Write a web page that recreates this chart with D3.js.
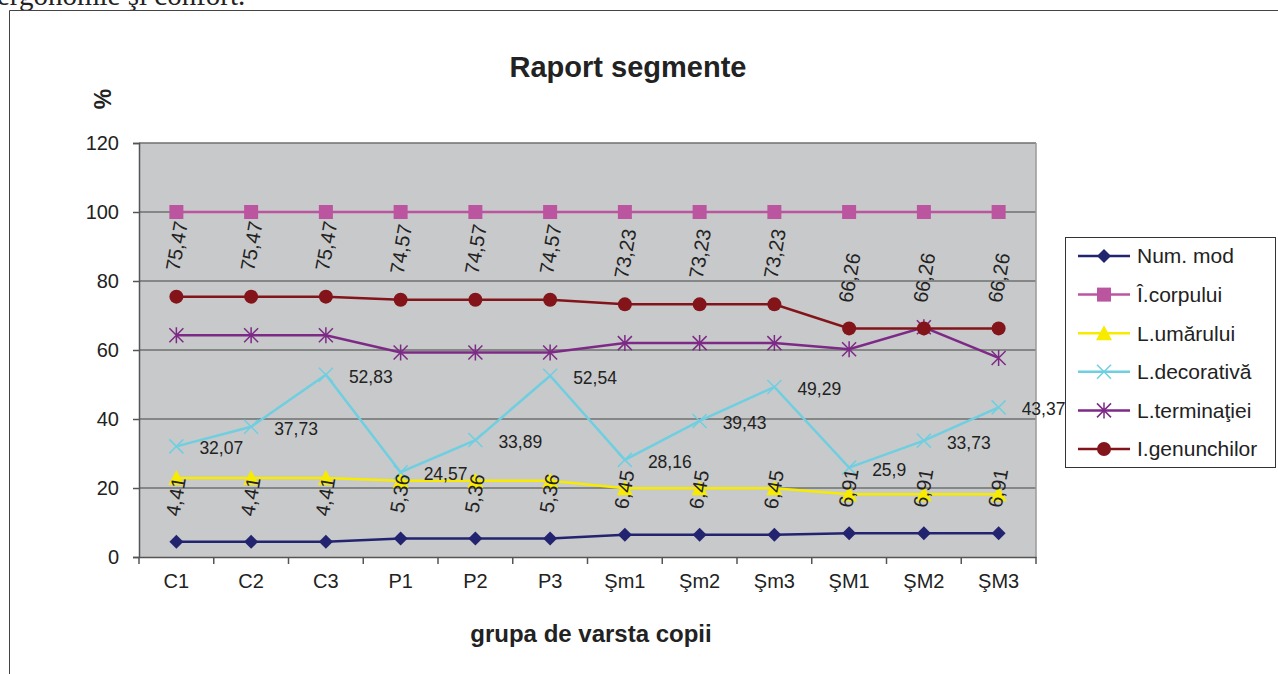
<!DOCTYPE html>
<html>
<head>
<meta charset="utf-8">
<script src="https://cdn.jsdelivr.net/npm/d3@7"></script>
<style>
  body { margin: 0; background: #fff; }
  svg { display: block; font-family: "Liberation Sans", Arial, sans-serif; }
</style>
</head>
<body>
<div id="chart"></div>
<script>
// categories and series
var groups = ["C1", "C2", "C3", "P1", "P2", "P3", "Şm1", "Şm2", "Şm3", "ŞM1", "ŞM2", "ŞM3"];
var numMod = [4.41, 4.41, 4.41, 5.36, 5.36, 5.36, 6.45, 6.45, 6.45, 6.91, 6.91, 6.91];
var iCorpului = [100, 100, 100, 100, 100, 100, 100, 100, 100, 100, 100, 100];
var lUmarului = [22.9, 22.9, 22.9, 22.1, 22.1, 22.1, 19.9, 19.9, 19.9, 18.2, 18.2, 18.2];
var lDecorativa = [32.07, 37.73, 52.83, 24.57, 33.89, 52.54, 28.16, 39.43, 49.29, 25.9, 33.73, 43.37];
var lTerminatiei = [64.3, 64.3, 64.3, 59.3, 59.3, 59.3, 62, 62, 62, 60.2, 66.6, 57.7];
var iGenunchilor = [75.47, 75.47, 75.47, 74.57, 74.57, 74.57, 73.23, 73.23, 73.23, 66.26, 66.26, 66.26];
var yTicks = [0, 20, 40, 60, 80, 100, 120];

var series = [
    { name: "Num. mod", values: numMod, color: "#23246f", marker: "diamond", labels: "rot" },
    { name: "Î.corpului", values: iCorpului, color: "#bb55a0", marker: "square" },
    { name: "L.umărului", values: lUmarului, color: "#f7eb00", marker: "triangle" },
    { name: "L.decorativă", values: lDecorativa, color: "#6fcfe0", marker: "cross", labels: "right" },
    { name: "L.terminaţiei", values: lTerminatiei, color: "#7d2a86", marker: "star" },
    { name: "I.genunchilor", values: iGenunchilor, color: "#82141a", marker: "circle", labels: "rot" }
];

function fmt(v) {
    return String(v).replace(".", ",");
}

var width = 1278, height = 674;
var plot = { left: 139, right: 1036, top: 143, bottom: 557 };

var svg = d3.select("#chart").append("svg")
    .attr("width", width)
    .attr("height", height);

// cut-off text of the page above
svg.append("text")
    .attr("x", -3).attr("y", 5)
    .style("font-family", "'Liberation Serif', serif")
    .style("font-size", "29px")
    .attr("fill", "#222")
    .text("ergonomie şi confort.");

// outer frame
svg.append("path")
    .attr("d", "M9.5,674 V10.5 H1278")
    .attr("fill", "none")
    .attr("stroke", "#444")
    .attr("stroke-width", 1);

var x = d3.scaleBand().domain(groups).range([plot.left, plot.right]).padding(0);
var y = d3.scaleLinear().domain([0, 120]).range([plot.bottom, plot.top]);
function cx(i) { return x(groups[i]) + x.bandwidth() / 2; }

// plot area
svg.append("rect")
    .attr("x", plot.left).attr("y", plot.top)
    .attr("width", plot.right - plot.left).attr("height", plot.bottom - plot.top)
    .attr("fill", "#c8c9cb");

// gridlines
svg.append("g").selectAll("line")
    .data(yTicks.slice(1))
    .enter().append("line")
    .attr("x1", plot.left).attr("x2", plot.right)
    .attr("y1", function(d) { return y(d); })
    .attr("y2", function(d) { return y(d); })
    .attr("stroke", "#6f6f6f")
    .attr("stroke-width", 1.5);

svg.append("line")
    .attr("x1", plot.right).attr("x2", plot.right)
    .attr("y1", plot.top).attr("y2", plot.bottom)
    .attr("stroke", "#9a9a9a").attr("stroke-width", 1.5);

// y axis
var yAxis = svg.append("g")
    .attr("transform", "translate(" + plot.left + ",0)")
    .call(d3.axisLeft(y).tickValues(yTicks).tickSize(6).tickPadding(14));
yAxis.select(".domain").attr("stroke", "#555").attr("stroke-width", 1.5);
yAxis.selectAll(".tick line").attr("stroke", "#555").attr("stroke-width", 1.5);
yAxis.selectAll("text").style("font-size", "20px").attr("fill", "#222");

// x axis
var xAxis = svg.append("g")
    .attr("transform", "translate(0," + plot.bottom + ")")
    .call(d3.axisBottom(x).tickSize(0).tickPadding(17));
xAxis.select(".domain").attr("stroke", "#555").attr("stroke-width", 1.5);
xAxis.selectAll("text").style("font-size", "20px").attr("fill", "#222");
xAxis.selectAll(".xt")
    .data(groups.concat(["end"]))
    .enter().append("line")
    .attr("x1", function(d, i) { return plot.left + i * x.bandwidth(); })
    .attr("x2", function(d, i) { return plot.left + i * x.bandwidth(); })
    .attr("y1", 0).attr("y2", 7)
    .attr("stroke", "#555").attr("stroke-width", 1.5);

// titles
svg.append("text")
    .attr("x", 628).attr("y", 77)
    .attr("text-anchor", "middle")
    .style("font-size", "29px").style("font-weight", "bold")
    .attr("fill", "#222")
    .text("Raport segmente");

svg.append("text")
    .attr("transform", "translate(111,99) rotate(-90)")
    .attr("text-anchor", "middle")
    .style("font-size", "23px").style("font-weight", "bold")
    .attr("fill", "#222")
    .text("%");

svg.append("text")
    .attr("x", 591).attr("y", 642)
    .attr("text-anchor", "middle")
    .style("font-size", "24px").style("font-weight", "bold")
    .attr("fill", "#222")
    .text("grupa de varsta copii");

// markers
function drawMarker(g, type, color) {
    if (type === "diamond") {
        g.append("path").attr("d", "M0,-7 L7,0 L0,7 L-7,0 Z").attr("fill", color);
    } else if (type === "square") {
        g.append("rect").attr("x", -7).attr("y", -7).attr("width", 14).attr("height", 14).attr("fill", color);
    } else if (type === "triangle") {
        g.append("path").attr("d", "M0,-8 L8,7 L-8,7 Z").attr("fill", color);
    } else if (type === "cross") {
        g.append("path").attr("d", "M-7,-7 L7,7 M-7,7 L7,-7")
            .attr("stroke", color).attr("stroke-width", 1.5).attr("fill", "none");
    } else if (type === "star") {
        g.append("path").attr("d", "M-7,-7 L7,7 M-7,7 L7,-7 M0,-8 V8")
            .attr("stroke", color).attr("stroke-width", 1.5).attr("fill", "none");
    } else if (type === "circle") {
        g.append("circle").attr("r", 7).attr("fill", color);
    }
}

var line = d3.line()
    .x(function(d, i) { return cx(i); })
    .y(function(d) { return y(d); });

series.forEach(function(s) {
    var g = svg.append("g");
    g.append("path")
        .attr("d", line(s.values))
        .attr("fill", "none")
        .attr("stroke", s.color)
        .attr("stroke-width", 2.5);
    s.values.forEach(function(v, i) {
        var m = g.append("g").attr("transform", "translate(" + cx(i) + "," + y(v) + ")");
        drawMarker(m, s.marker, s.color);
    });
});

// data labels
series.forEach(function(s) {
    if (!s.labels) { return; }
    s.values.forEach(function(v, i) {
        if (s.labels === "rot") {
            svg.append("text")
                .attr("transform", "translate(" + (cx(i) - 4) + "," + (y(v) - 26) + ") rotate(-80)")
                .attr("dy", "0.35em")
                .style("font-size", "20px")
                .attr("fill", "#222")
                .text(fmt(v));
        } else {
            svg.append("text")
                .attr("x", cx(i) + 23)
                .attr("y", y(v) + 2)
                .attr("dy", "0.35em")
                .style("font-size", "17.5px")
                .attr("fill", "#222")
                .text(fmt(v));
        }
    });
});

// legend
var legend = svg.append("g");
legend.append("rect")
    .attr("x", 1065.5).attr("y", 237.5)
    .attr("width", 210).attr("height", 230)
    .attr("fill", "#fff").attr("stroke", "#333").attr("stroke-width", 1);
series.forEach(function(s, i) {
    var ly = 256 + i * 38.6;
    var item = legend.append("g").attr("transform", "translate(0," + ly + ")");
    item.append("line")
        .attr("x1", 1078).attr("x2", 1130)
        .attr("stroke", s.color).attr("stroke-width", 2.5);
    drawMarker(item.append("g").attr("transform", "translate(1104,0)"), s.marker, s.color);
    item.append("text")
        .attr("x", 1137).attr("dy", "0.35em")
        .style("font-size", "21px")
        .attr("fill", "#222")
        .text(s.name);
});
</script>
</body>
</html>
